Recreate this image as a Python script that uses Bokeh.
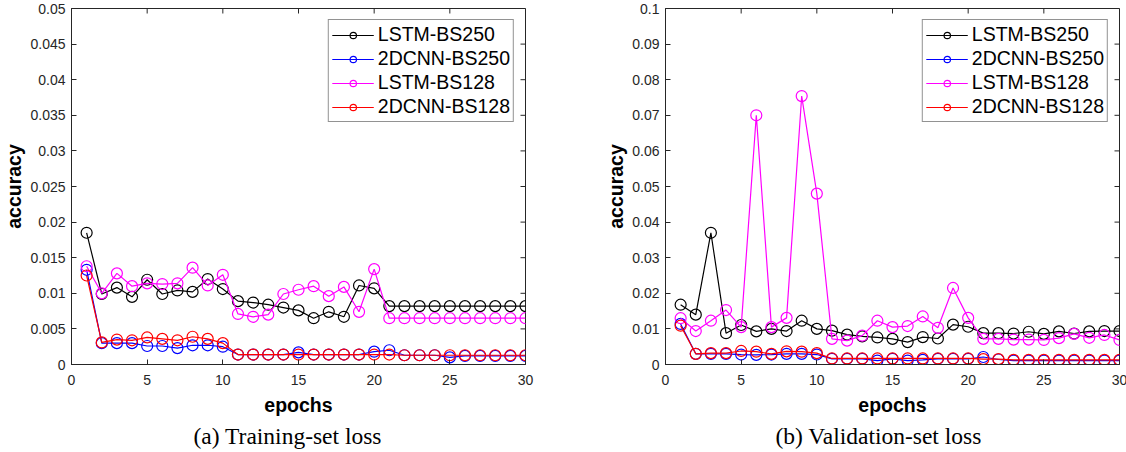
from bokeh.plotting import figure
from bokeh.models import Range1d, FixedTicker, Legend, LegendItem, Title
from bokeh.layouts import row
from bokeh.embed import file_html
from bokeh.resources import INLINE

epochs = list(range(1, 31))
series_names = ["LSTM-BS250", "2DCNN-BS250", "LSTM-BS128", "2DCNN-BS128"]
series_colors = ["#000000", "#0000FF", "#FF00FF", "#FF0000"]

# (a) Training-set loss
train_lstm_bs250 = [0.0185, 0.0099, 0.0108, 0.0095, 0.0119, 0.0099, 0.0104, 0.0102, 0.0120, 0.0106,
                    0.0089, 0.0087, 0.0084, 0.0080, 0.0076, 0.0065, 0.0074, 0.0067, 0.0111, 0.0107,
                    0.0082, 0.0082, 0.0082, 0.0082, 0.0082, 0.0082, 0.0082, 0.0082, 0.0082, 0.0082]
train_cnn_bs250 = [0.0133, 0.0030, 0.0030, 0.0030, 0.0026, 0.0026, 0.0023, 0.0027, 0.0027, 0.0025,
                   0.0014, 0.0014, 0.0014, 0.0014, 0.0017, 0.0014, 0.0014, 0.0014, 0.0014, 0.0018,
                   0.0020, 0.0013, 0.0013, 0.0013, 0.0010, 0.0012, 0.0012, 0.0012, 0.0012, 0.0012]
train_lstm_bs128 = [0.0138, 0.0100, 0.0128, 0.0110, 0.0114, 0.0113, 0.0114, 0.0136, 0.0111, 0.0126,
                    0.0071, 0.0067, 0.0070, 0.0099, 0.0105, 0.0110, 0.0096, 0.0109, 0.0074, 0.0134,
                    0.0065, 0.0065, 0.0065, 0.0065, 0.0065, 0.0065, 0.0065, 0.0065, 0.0065, 0.0065]
train_cnn_bs128 = [0.0125, 0.0031, 0.0035, 0.0034, 0.0038, 0.0036, 0.0034, 0.0039, 0.0036, 0.0030,
                   0.0014, 0.0014, 0.0014, 0.0014, 0.0014, 0.0014, 0.0014, 0.0014, 0.0014, 0.0014,
                   0.0014, 0.0013, 0.0013, 0.0013, 0.0013, 0.0013, 0.0013, 0.0013, 0.0013, 0.0013]

# (b) Validation-set loss
val_lstm_bs250 = [0.0168, 0.0140, 0.0370, 0.0088, 0.0111, 0.0093, 0.0100, 0.0094, 0.0123, 0.0100,
                  0.0095, 0.0084, 0.0079, 0.0076, 0.0072, 0.0063, 0.0077, 0.0073, 0.0112, 0.0106,
                  0.0088, 0.0088, 0.0087, 0.0092, 0.0086, 0.0093, 0.0087, 0.0093, 0.0094, 0.0094]
val_cnn_bs250 = [0.0114, 0.0030, 0.0030, 0.0030, 0.0028, 0.0027, 0.0028, 0.0030, 0.0030, 0.0028,
                 0.0016, 0.0016, 0.0016, 0.0011, 0.0016, 0.0011, 0.0013, 0.0016, 0.0016, 0.0016,
                 0.0021, 0.0014, 0.0011, 0.0011, 0.0011, 0.0011, 0.0011, 0.0011, 0.0011, 0.0011]
val_lstm_bs128 = [0.0130, 0.0094, 0.0123, 0.0153, 0.0105, 0.0700, 0.0105, 0.0131, 0.0754, 0.0480,
                  0.0072, 0.0067, 0.0081, 0.0123, 0.0105, 0.0108, 0.0135, 0.0103, 0.0215, 0.0131,
                  0.0072, 0.0072, 0.0070, 0.0070, 0.0069, 0.0074, 0.0086, 0.0075, 0.0083, 0.0069]
val_cnn_bs128 = [0.0109, 0.0030, 0.0032, 0.0032, 0.0038, 0.0036, 0.0030, 0.0037, 0.0036, 0.0032,
                 0.0017, 0.0017, 0.0017, 0.0017, 0.0017, 0.0017, 0.0017, 0.0017, 0.0017, 0.0017,
                 0.0015, 0.0015, 0.0013, 0.0013, 0.0013, 0.0013, 0.0013, 0.0013, 0.0013, 0.0013]

x_ticks = [0, 5, 10, 15, 20, 25, 30]
train_y_ticks = [0, 0.005, 0.01, 0.015, 0.02, 0.025, 0.03, 0.035, 0.04, 0.045, 0.05]
train_y_labels = ["0", "0.005", "0.01", "0.015", "0.02", "0.025", "0.03", "0.035", "0.04", "0.045", "0.05"]
val_y_ticks = [0, 0.01, 0.02, 0.03, 0.04, 0.05, 0.06, 0.07, 0.08, 0.09, 0.1]
val_y_labels = ["0", "0.01", "0.02", "0.03", "0.04", "0.05", "0.06", "0.07", "0.08", "0.09", "0.1"]

AX = "#262626"
SANS = "Liberation Sans"
FW, FH = 454, 356
TICK = 5


def make_panel(data, ymax, yticks, ylabels, caption, bl, br, cap_offset):
    p = figure(frame_width=FW, frame_height=FH, x_range=Range1d(0, 30), y_range=Range1d(0, ymax),
               output_backend="svg", toolbar_location=None,
               min_border_left=bl, min_border_right=br, min_border_top=8, min_border_bottom=86)
    p.background_fill_color = "white"
    p.border_fill_color = "white"
    p.outline_line_color = AX
    p.outline_line_width = 1
    p.grid.visible = False

    p.xaxis.ticker = FixedTicker(ticks=x_ticks)
    p.yaxis.ticker = FixedTicker(ticks=yticks)
    p.yaxis.major_label_overrides = {t: l for t, l in zip(yticks, ylabels)}
    for ax in (p.xaxis, p.yaxis):
        ax.major_tick_in = TICK
        ax.major_tick_out = 0
        ax.minor_tick_line_color = None
        ax.axis_line_color = AX
        ax.major_tick_line_color = AX
        ax.major_label_text_color = AX
        ax.major_label_text_font = SANS
        ax.major_label_text_font_size = "14px"
        ax.axis_label_text_font = SANS
        ax.axis_label_text_font_size = "19.5px"
        ax.axis_label_text_font_style = "bold"
        ax.axis_label_text_color = "black"
    p.xaxis.axis_label = "epochs"
    p.yaxis.axis_label = "accuracy"
    p.xaxis.major_label_standoff = 10
    p.xaxis.axis_label_standoff = 6
    p.yaxis.major_label_standoff = 6
    p.yaxis.axis_label_standoff = 2

    # mirrored tick marks on the top and right edges of the box
    ty = ymax * TICK / FH
    tx = 30 * TICK / FW
    p.segment(x0=x_ticks, y0=[ymax] * len(x_ticks), x1=x_ticks, y1=[ymax - ty] * len(x_ticks),
              line_color=AX, line_width=1)
    p.segment(x0=[30] * len(yticks), y0=yticks, x1=[30 - tx] * len(yticks), y1=yticks,
              line_color=AX, line_width=1)

    items = []
    for name, color, ys in zip(series_names, series_colors, data):
        lr = p.line(epochs, ys, line_color=color, line_width=1.2)
        sr = p.scatter(epochs, ys, marker="circle", size=11, fill_color=None,
                       line_color=color, line_width=1.2)
        items.append(LegendItem(label=name, renderers=[lr, sr]))

    legend = Legend(items=items, location="top_right")
    legend.label_text_font = SANS
    legend.label_text_font_size = "19.5px"
    legend.label_text_color = "black"
    legend.glyph_width = 42
    legend.glyph_height = 16
    legend.label_height = 16
    legend.label_standoff = 4
    legend.spacing = 1
    legend.padding = 3
    legend.margin = 11
    legend.border_line_color = AX
    legend.border_line_width = 1
    legend.background_fill_color = "white"
    legend.background_fill_alpha = 1
    p.add_layout(legend)

    t = Title(text=caption, align="left", offset=cap_offset, standoff=5,
              text_font="Liberation Serif", text_font_size="23.5px",
              text_font_style="normal", text_color="black")
    p.add_layout(t, "below")
    return p


p1 = make_panel([train_lstm_bs250, train_cnn_bs250, train_lstm_bs128, train_cnn_bs128],
                0.05, train_y_ticks, train_y_labels, "(a) Training-set loss", 69, 40, 122)
p2 = make_panel([val_lstm_bs250, val_cnn_bs250, val_lstm_bs128, val_cnn_bs128],
                0.1, val_y_ticks, val_y_labels, "(b) Validation-set loss", 100, 9, 110)

layout = row(p1, p2)
open("out.html", "w").write(file_html(layout, INLINE))
